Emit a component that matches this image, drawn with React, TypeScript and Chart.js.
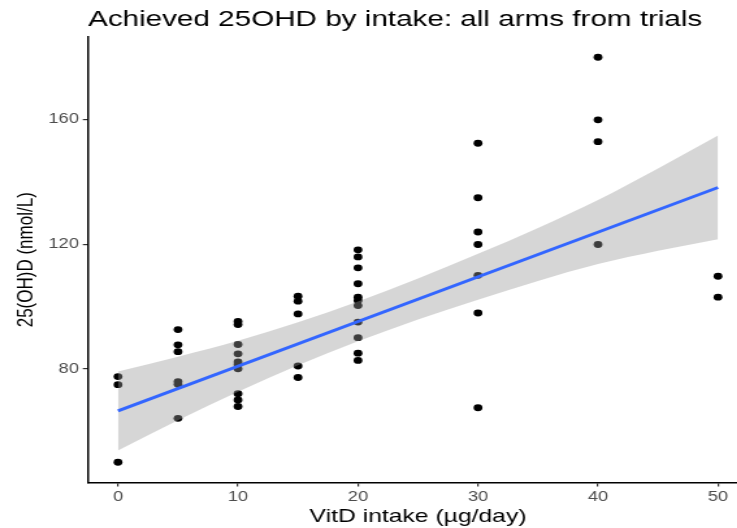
import React, { useEffect, useRef } from "react";
import { Chart, registerables } from "chart.js";

Chart.register(...registerables);

const TITLE = "Achieved 25OHD by intake: all arms from trials";
const X_TITLE = "VitD intake (µg/day)";
const Y_TITLE = "25(OH)D (nmol/L)";

const xTicks = [0, 10, 20, 30, 40, 50];
const yTicks = [80, 120, 160];

// trial arms: intake (µg/day) and achieved 25(OH)D (nmol/L)
const intake = [
  0, 0, 0,
  5, 5, 5, 5, 5, 5,
  10, 10, 10, 10, 10, 10, 10, 10, 10, 10,
  15, 15, 15, 15, 15,
  20, 20, 20, 20, 20, 20, 20, 20, 20, 20, 20,
  30, 30, 30, 30, 30, 30, 30,
  40, 40, 40, 40,
  50, 50,
];
const achieved = [
  77.5, 74.9, 50.0,
  92.6, 87.7, 85.5, 75.9, 75.0, 64.1,
  95.2, 94.2, 87.8, 84.8, 82.2, 81.3, 80.0, 72.0, 70.0, 67.9,
  103.3, 101.7, 97.6, 80.9, 77.2,
  118.2, 115.9, 112.4, 107.3, 103.0, 101.9, 100.3, 95.0, 90.0, 85.0, 82.7,
  152.4, 134.9, 123.9, 119.9, 110.0, 97.9, 67.5,
  180.0, 159.9, 152.9, 119.9,
  109.7, 103.0,
];

// linear fit line
const fitX = [0, 50];
const fitY = [66.5, 138.2];

// confidence band
const bandX = [0, 5, 10, 15, 20, 25, 30, 35, 40, 45, 50];
const bandUpper = [79.1, 83.9, 89.0, 94.9, 101.6, 109.0, 116.9, 125.2, 134.2, 144.3, 154.9];
const bandLower = [53.8, 63.5, 72.6, 81.1, 88.8, 95.8, 102.2, 108.2, 113.6, 117.9, 121.6];

const FONT = '"Liberation Sans", Arial, sans-serif';

// the reference picture is stretched horizontally; draw narrower and stretch with CSS
const STRETCH = 1.3;
const CSS_W = 754;
const CSS_H = 528;
const LOGIC_W = Math.round(CSS_W / STRETCH);
const AXIS_LEFT = 88 / STRETCH;
const AXIS_RIGHT = 748 / STRETCH;

export default function App() {
  const ref = useRef<HTMLCanvasElement | null>(null);

  useEffect(() => {
    if (!ref.current) return;
    const titlePlugin = {
      id: "plotTitle",
      afterDraw(chart: any) {
        const ctx = chart.ctx;
        ctx.save();
        ctx.font = `22.8px ${FONT}`;
        ctx.fillStyle = "#000000";
        ctx.textAlign = "left";
        ctx.textBaseline = "alphabetic";
        ctx.fillText(TITLE, AXIS_LEFT, 26);
        ctx.restore();
      },
    };
    const chart = new Chart(ref.current, {
      type: "scatter",
      data: {
        datasets: [
          {
            label: "arms",
            data: intake.map((x, i) => ({ x, y: achieved[i] })),
            pointStyle: "circle",
            pointRadius: 3.4,
            pointBorderWidth: 0,
            backgroundColor: "#000000",
            borderColor: "#000000",
            order: 4,
          } as any,
          {
            type: "line",
            label: "lower",
            data: bandX.map((x, i) => ({ x, y: bandLower[i] })),
            borderWidth: 0,
            borderColor: "rgba(0,0,0,0)",
            pointRadius: 0,
            fill: false,
            cubicInterpolationMode: "monotone",
            order: 3,
          } as any,
          {
            type: "line",
            label: "upper",
            data: bandX.map((x, i) => ({ x, y: bandUpper[i] })),
            borderWidth: 0,
            borderColor: "rgba(0,0,0,0)",
            backgroundColor: "rgba(153,153,153,0.4)",
            pointRadius: 0,
            fill: "-1",
            cubicInterpolationMode: "monotone",
            order: 2,
          } as any,
          {
            type: "line",
            label: "fit",
            data: fitX.map((x, i) => ({ x, y: fitY[i] })),
            borderColor: "#3366FF",
            borderWidth: 2.9,
            pointRadius: 0,
            fill: false,
            order: 1,
          } as any,
        ],
      },
      options: {
        animation: false,
        responsive: false,
        devicePixelRatio: 1,
        events: [],
        layout: { padding: { top: 37, right: LOGIC_W - AXIS_RIGHT, left: 0, bottom: 0 } },
        plugins: {
          legend: { display: false },
          tooltip: { enabled: false },
          title: { display: false },
        },
        scales: {
          x: {
            type: "linear",
            min: -2.5,
            max: 52.5,
            afterFit(scale: any) {
              scale.height = CSS_H - 482.5;
            },
            afterBuildTicks(scale: any) {
              scale.ticks = xTicks.map((v) => ({ value: v }));
            },
            grid: {
              display: true,
              drawOnChartArea: false,
              drawTicks: true,
              tickLength: 4,
              tickColor: "#333333",
              lineWidth: 1.2,
            },
            border: { display: true, color: "#000000", width: 1.5 },
            ticks: {
              color: "#4d4d4d",
              font: { family: FONT, size: 14 },
              padding: 2,
              maxRotation: 0,
            },
            title: {
              display: true,
              text: X_TITLE,
              color: "#000000",
              font: { family: FONT, size: 19, lineHeight: 1.2 },
              padding: { top: 0, bottom: 0 },
            },
          },
          y: {
            type: "linear",
            min: 43.5,
            max: 186.5,
            afterFit(scale: any) {
              scale.width = AXIS_LEFT;
            },
            afterBuildTicks(scale: any) {
              scale.ticks = yTicks.map((v) => ({ value: v }));
            },
            grid: {
              display: true,
              drawOnChartArea: false,
              drawTicks: true,
              tickLength: 4,
              tickColor: "#333333",
              lineWidth: 1.2,
            },
            border: { display: true, color: "#000000", width: 1.5 },
            ticks: {
              color: "#4d4d4d",
              font: { family: FONT, size: 14 },
              padding: 3,
            },
            title: {
              display: true,
              text: Y_TITLE,
              color: "#000000",
              font: { family: FONT, size: 17, lineHeight: 1 },
              padding: { top: 11.5, bottom: 0 },
            },
          },
        },
      } as any,
      plugins: [titlePlugin],
    });
    return () => chart.destroy();
  }, []);

  return (
    <div
      style={{
        position: "absolute",
        left: 0,
        top: 0,
        width: 737,
        height: CSS_H,
        overflow: "hidden",
        background: "#ffffff",
      }}
    >
      <canvas
        ref={ref}
        width={LOGIC_W}
        height={CSS_H}
        style={{ width: CSS_W, height: CSS_H, display: "block" }}
      />
    </div>
  );
}
